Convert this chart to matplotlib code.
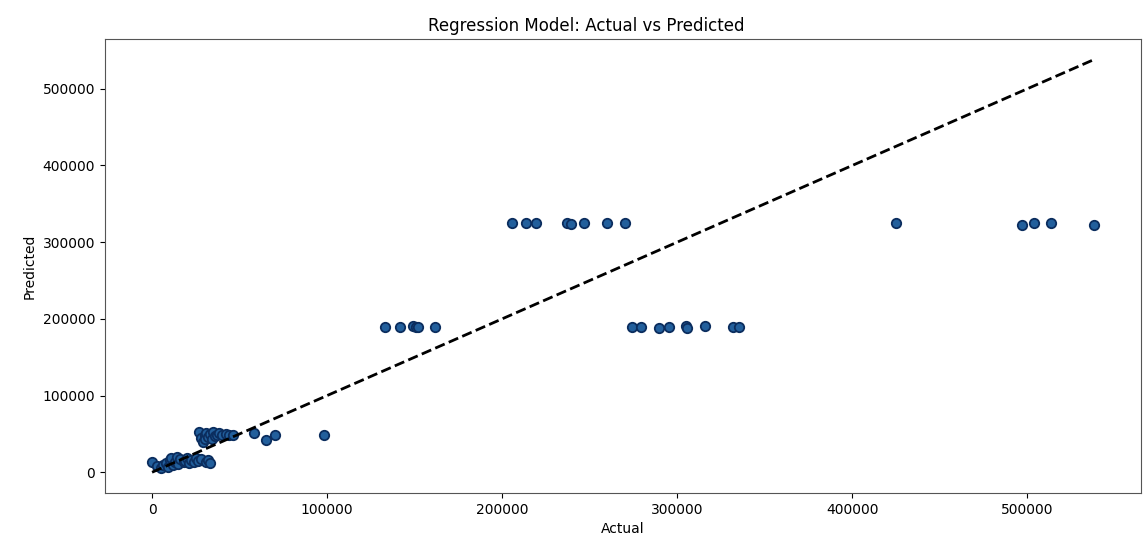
import numpy as np
import matplotlib.pyplot as plt

# actual vs predicted values of the regression model
actual_low = [0, 3000, 5000, 6000, 8000, 9000, 10000, 11000, 12000, 13000,
              14000, 15000, 16000, 18000, 19000, 20000, 21000, 22000, 24000,
              25000, 26000, 28000, 31000, 32000, 33000]
pred_low = [14000, 8000, 5000, 10000, 12000, 7000, 16000, 18000, 9000, 14000,
            20000, 11000, 17000, 13000, 15000, 19000, 12000, 16000, 14000,
            18000, 15000, 17000, 14000, 16000, 12000]

actual_mid = [27000, 28000, 29000, 30000, 30000, 31000, 32000, 33000, 34000,
              35000, 36000, 37000, 38000, 40000, 42000, 44000, 46000, 58000,
              65000, 70000, 98000]
pred_mid = [52000, 45000, 40000, 48000, 43000, 51000, 46000, 50000, 44000,
            52000, 47000, 49000, 51000, 48000, 50000, 49000, 48000, 51000,
            42000, 49000, 48000]

actual_190k = [132900, 141500, 148900, 150500, 151700, 161900,
               274400, 279500, 289800, 295500, 305100, 305500, 315900,
               331800, 335200]
pred_190k = [189600, 189600, 190900, 189000, 189900, 189900,
             189900, 189900, 187900, 189000, 190900, 188000, 190200,
             189900, 189900]

actual_325k = [205700, 213600, 219300, 236900, 239200, 246600, 259700,
               269900, 424700, 497000, 504000, 513400, 538000]
pred_325k = [325600, 325600, 325600, 325600, 323500, 324700, 324700,
             324700, 325600, 323000, 325000, 324700, 322000]

y_test = np.array(actual_low + actual_mid + actual_190k + actual_325k)
y_pred = np.array(pred_low + pred_mid + pred_190k + pred_325k)

fig = plt.figure(figsize=(11.46, 5.34), dpi=100)
ax = fig.add_axes([0.0916, 0.077, 0.904, 0.85])

ax.scatter(y_test, y_pred, s=46, c='#225f9c', edgecolors='#0b2d5e',
           linewidths=1.3, zorder=2)
lims = [y_test.min(), y_test.max()]
ax.plot(lims, lims, 'k--', lw=2, zorder=3)

ax.set_title('Regression Model: Actual vs Predicted', fontsize=12, x=0.465)
ax.set_xlabel('Actual', fontsize=10)
ax.set_ylabel('Predicted', fontsize=10)
ax.tick_params(labelsize=10)
for sp in ax.spines.values():
    sp.set_color('#555555')

fig.savefig('out.png', dpi=100)
